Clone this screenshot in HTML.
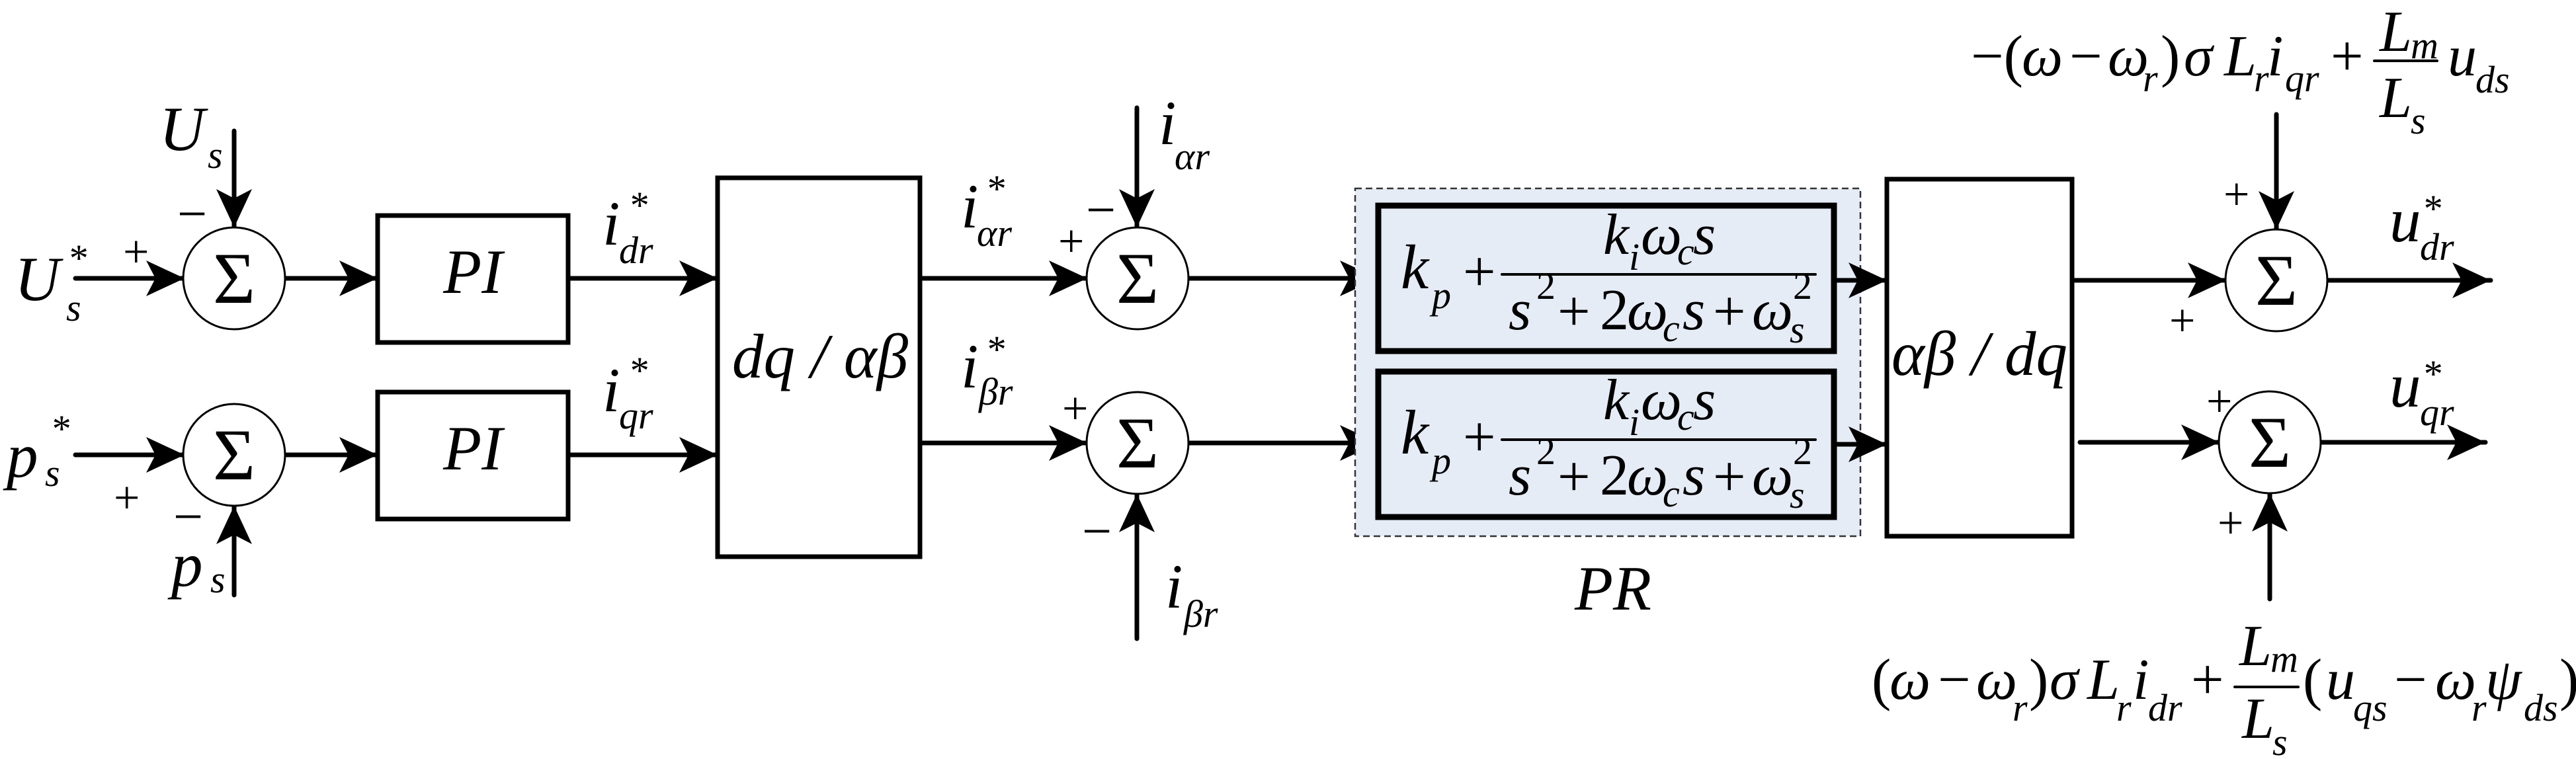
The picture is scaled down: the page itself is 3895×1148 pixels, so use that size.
<!DOCTYPE html>
<html><head><meta charset="utf-8"><style>
html,body{margin:0;padding:0;background:#fff}
svg{display:block}
svg text{font-family:"Liberation Serif","Times New Roman","DejaVu Serif",serif;font-style:italic;fill:#000}
svg text.n{font-style:normal}
.b{font-size:95px}
.s{font-size:58px}
.f{font-size:88px}
</style></head><body>
<svg width="3895" height="1148" viewBox="0 0 3895 1148" xmlns="http://www.w3.org/2000/svg" font-family="Liberation Serif, serif">
<defs>
<marker id="a" markerUnits="userSpaceOnUse" markerWidth="70" markerHeight="60" refX="58" refY="27" orient="auto">
<path d="M0,0 L58,27 L0,54 L14,27 z" fill="#000"/>
</marker>
</defs>
<g stroke="#000" stroke-width="7" fill="none" stroke-linecap="round">
<line x1="114" y1="421" x2="279" y2="421" marker-end="url(#a)"/>
<line x1="354" y1="198" x2="354" y2="344" marker-end="url(#a)"/>
<line x1="432" y1="421" x2="571" y2="421" marker-end="url(#a)"/>
<line x1="859" y1="421" x2="1085" y2="421" marker-end="url(#a)"/>
<line x1="114" y1="688" x2="279" y2="688" marker-end="url(#a)"/>
<line x1="354" y1="900" x2="354" y2="765" marker-end="url(#a)"/>
<line x1="432" y1="688" x2="571" y2="688" marker-end="url(#a)"/>
<line x1="859" y1="688" x2="1085" y2="688" marker-end="url(#a)"/>
<rect x="571" y="326" width="288" height="192"/>
<rect x="571" y="593" width="288" height="192"/>
<rect x="1085" y="269" width="306" height="573"/>
<line x1="1391" y1="421" x2="1644" y2="421" marker-end="url(#a)"/>
<line x1="1391" y1="670" x2="1644" y2="670" marker-end="url(#a)"/>
<line x1="1719" y1="163" x2="1719" y2="344" marker-end="url(#a)"/>
<line x1="1719" y1="966" x2="1719" y2="747" marker-end="url(#a)"/>
<line x1="1797" y1="421" x2="2084" y2="421" marker-end="url(#a)"/>
<line x1="1797" y1="670" x2="2084" y2="670" marker-end="url(#a)"/>
</g>
<rect x="2049" y="285" width="764" height="526" fill="#e6ecf6" stroke="#333" stroke-width="2.5" stroke-dasharray="10,6"/>
<g stroke="#000" stroke-width="7" fill="none" stroke-linecap="round">
<rect x="2084" y="311" width="689" height="220" fill="#e6ecf6" stroke-width="9"/>
<rect x="2084" y="562" width="689" height="220" fill="#e6ecf6" stroke-width="9"/>
<line x1="2773" y1="424" x2="2853" y2="424" marker-end="url(#a)"/>
<line x1="2773" y1="672" x2="2853" y2="672" marker-end="url(#a)"/>
<rect x="2853" y="271" width="280" height="540"/>
<line x1="3133" y1="424" x2="3366" y2="424" marker-end="url(#a)"/>
<line x1="3145" y1="669" x2="3356" y2="669" marker-end="url(#a)"/>
<line x1="3442" y1="173" x2="3442" y2="347" marker-end="url(#a)"/>
<line x1="3432" y1="906" x2="3432" y2="746" marker-end="url(#a)"/>
<line x1="3518" y1="424" x2="3766" y2="424" marker-end="url(#a)"/>
<line x1="3509" y1="669" x2="3758" y2="669" marker-end="url(#a)"/>
<line x1="2271" y1="415" x2="2745" y2="415" stroke-width="4"/>
<line x1="2271" y1="665" x2="2745" y2="665" stroke-width="4"/>
<line x1="3590" y1="92" x2="3685" y2="92" stroke-width="4"/>
<line x1="3379" y1="1039" x2="3475" y2="1039" stroke-width="4"/>
</g>
<g stroke="#000" stroke-width="3" fill="#fff">
<circle cx="354" cy="421" r="77"/>
<circle cx="354" cy="688" r="77"/>
<circle cx="1720" cy="421" r="77"/>
<circle cx="1720" cy="670" r="77"/>
<circle cx="3442" cy="424" r="77"/>
<circle cx="3432" cy="669" r="77"/>
</g>
<g text-anchor="middle">
<text class="n" x="354" y="458" font-size="110">Σ</text>
<text class="n" x="354" y="725" font-size="110">Σ</text>
<text class="n" x="1720" y="458" font-size="110">Σ</text>
<text class="n" x="1720" y="707" font-size="110">Σ</text>
<text class="n" x="3442" y="461" font-size="110">Σ</text>
<text class="n" x="3432" y="706" font-size="110">Σ</text>
</g>
<g>
<text class="n" x="186" y="404" font-size="70">+</text>
<text class="n" x="268" y="350" font-size="80">−</text>
<text class="n" x="172" y="776" font-size="70">+</text>
<text class="n" x="262" y="808" font-size="80">−</text>
<text class="n" x="1600" y="388" font-size="70">+</text>
<text class="n" x="1642" y="344" font-size="80">−</text>
<text class="n" x="1606" y="641" font-size="70">+</text>
<text class="n" x="1636" y="830" font-size="80">−</text>
<text class="n" x="3362" y="317" font-size="70">+</text>
<text class="n" x="3280" y="508" font-size="70">+</text>
<text class="n" x="3336" y="630" font-size="70">+</text>
<text class="n" x="3353" y="814" font-size="70">+</text>
</g>
<text class="b" x="22" y="454">U</text><text class="s" x="100" y="485">s</text><text class="s" x="102" y="410">*</text>
<text class="b" x="241" y="227">U</text><text class="s" x="314" y="254">s</text>
<text class="b" x="10" y="721">p</text><text class="s" x="68" y="735">s</text><text class="s" x="76" y="668">*</text>
<text class="b" x="259" y="886">p</text><text class="s" x="318" y="896">s</text>
<text class="b" x="911" y="370">i</text><text class="s" x="936" y="398">dr</text><text class="s" x="950" y="330">*</text>
<text class="b" x="911" y="622">i</text><text class="s" x="936" y="648">qr</text><text class="s" x="950" y="580">*</text>
<text class="b" x="715" y="443" text-anchor="middle">PI</text>
<text class="b" x="715" y="710" text-anchor="middle">PI</text>
<text class="b" x="1240" y="571" text-anchor="middle">dq / αβ</text>
<text class="b" x="1453" y="344">i</text><text class="s" x="1477" y="372">αr</text><text class="s" x="1490" y="305">*</text>
<text class="b" x="1453" y="586">i</text><text class="s" x="1480" y="612">βr</text><text class="s" x="1490" y="548">*</text>
<text class="b" x="1752" y="218">i</text><text class="s" x="1776" y="256">αr</text>
<text class="b" x="1762" y="919">i</text><text class="s" x="1790" y="948">βr</text>
<text class="b" x="2381" y="922">PR</text>
<g id="pr">
<text class="b" x="2118" y="436">k</text><text class="s" x="2165" y="466">p</text>
<text class="n f" x="2212" y="440">+</text>
<text class="f" x="2424" y="384">k</text><text class="s" x="2463" y="408">i</text>
<text class="f" x="2481" y="384">ω</text><text class="s" x="2536" y="400">c</text>
<text class="f" x="2560" y="384">s</text>
<text class="f" x="2281" y="498">s</text><text class="n s" x="2323" y="452">2</text>
<text class="n f" x="2355" y="500">+</text>
<text class="n f" x="2419" y="498">2</text>
<text class="f" x="2460" y="498">ω</text><text class="s" x="2514" y="516">c</text>
<text class="f" x="2544" y="498">s</text>
<text class="n f" x="2590" y="500">+</text>
<text class="f" x="2649" y="498">ω</text><text class="n s" x="2711" y="452">2</text><text class="s" x="2706" y="518">s</text>
</g>
<use href="#pr" transform="translate(0,250)"/>
<text class="b" x="2993" y="567" text-anchor="middle">αβ / dq</text>
<text class="b" x="3613" y="365">u</text><text class="s" x="3659" y="393">dr</text><text class="s" x="3662" y="335">*</text>
<text class="b" x="3613" y="615">u</text><text class="s" x="3659" y="643">qr</text><text class="s" x="3662" y="585">*</text>
<text class="n f" x="2980" y="114">−(</text>
<text class="f" x="3057" y="114">ω</text>
<text class="n f" x="3129" y="114">−</text>
<text class="f" x="3187" y="114">ω</text><text class="s" x="3240" y="138">r</text>
<text class="n f" x="3267" y="114">)</text>
<text class="f" x="3302" y="114">σ</text>
<text class="f" x="3363" y="114">L</text><text class="s" x="3408" y="138">r</text>
<text class="f" x="3428" y="114">i</text><text class="s" x="3455" y="138">qr</text>
<text class="n f" x="3524" y="114">+</text>
<text class="f" x="3598" y="77">L</text><text class="s" x="3645" y="88">m</text>
<text class="f" x="3598" y="177">L</text><text class="s" x="3645" y="202">s</text>
<text class="f" x="3701" y="114">u</text><text class="s" x="3743" y="140">ds</text>
<text class="n f" x="2830" y="1057">(</text>
<text class="f" x="2857" y="1057">ω</text>
<text class="n f" x="2930" y="1057">−</text>
<text class="f" x="2988" y="1057">ω</text><text class="s" x="3043" y="1090">r</text>
<text class="n f" x="3068" y="1057">)</text>
<text class="f" x="3099" y="1057">σ</text>
<text class="f" x="3156" y="1057">L</text><text class="s" x="3200" y="1090">r</text>
<text class="f" x="3225" y="1057">i</text><text class="s" x="3248" y="1090">dr</text>
<text class="n f" x="3313" y="1057">+</text>
<text class="f" x="3386" y="1006">L</text><text class="s" x="3433" y="1016">m</text>
<text class="f" x="3390" y="1116">L</text><text class="s" x="3436" y="1142">s</text>
<text class="n f" x="3482" y="1057">(</text>
<text class="f" x="3517" y="1057">u</text><text class="s" x="3558" y="1090">qs</text>
<text class="n f" x="3620" y="1057">−</text>
<text class="f" x="3682" y="1057">ω</text><text class="s" x="3737" y="1090">r</text>
<text class="f" x="3758" y="1057">ψ</text><text class="s" x="3816" y="1090">ds</text>
<text class="n f" x="3870" y="1057">)</text>
</svg>
</body></html>
